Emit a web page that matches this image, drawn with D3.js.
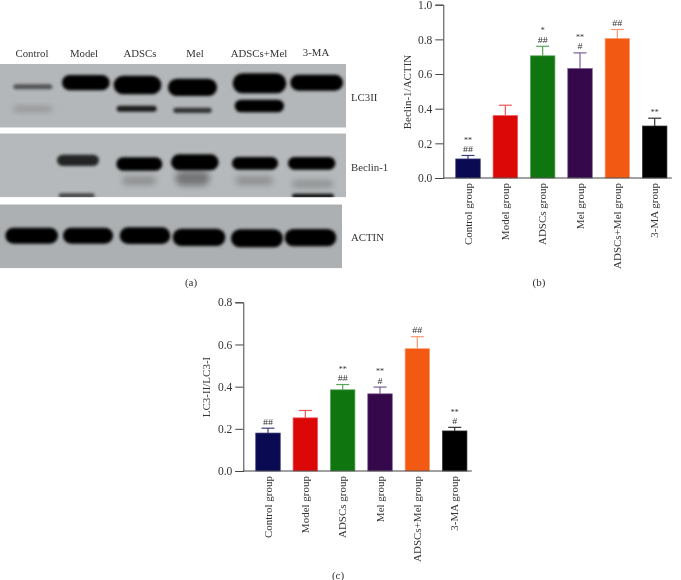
<!DOCTYPE html>
<html><head><meta charset="utf-8">
<script src="https://cdn.jsdelivr.net/npm/d3@7"></script>
<style>html,body{margin:0;padding:0;background:#fff}svg{display:block;filter:blur(0.3px)}text{font-family:"Liberation Serif",serif;fill:#333}</style>
</head><body><div id="c"></div>
<script>
const groups=["Control group","Model group","ADSCs group","Mel group","ADSCs+Mel group","3-MA group"];
const barColors=["#0a0a52","#dc0808","#0f750f","#34084a","#f25912","#000000"];
const whiskerColors=["#3e3e7e","#ee5555","#58a458","#7c6096","#fb9a72","#333333"];
const beclinValues=[0.11,0.36,0.705,0.632,0.805,0.30];
const beclinTops=[0.13,0.42,0.76,0.722,0.857,0.345];
const beclinMarks=[["**","##"],[],["*","##"],["**","#"],["##"],["**"]];
const lc3Values=[0.18,0.252,0.385,0.366,0.58,0.19];
const lc3Tops=[0.203,0.287,0.41,0.398,0.637,0.207];
const lc3Marks=[["##"],[],["**","##"],["**","#"],["##"],["**","#"]];
const beclinTicks=[0,0.2,0.4,0.6,0.8,1.0];
const lc3Ticks=[0,0.2,0.4,0.6,0.8];
const laneLabels=["Control","Model","ADSCs","Mel","ADSCs+Mel","3-MA"];
// blot bands: start, end, centre, thickness, density (units of the blot image)
const lc3Bands=[[40,157,170,15,.55],[40,157,237,11,.3],[186,329,158,46,1],[341,484,165,56,1],[350,470,236,18,.85],[504,651,172,52,1],[520,635,241,16,.72],[698,859,160,60,1],[704,852,228,38,1],[871,1029,158,48,1]];
const beclinBands=[[171,297,391,34,.8],[176,284,497,14,.62],[349,487,402,40,1],[366,469,452,26,.22],[513,656,397,48,1],[526,629,445,44,.36],[696,834,400,38,1],[706,819,452,26,.22],[864,1006,400,38,1],[876,999,462,22,.22],[876,1002,498,14,.92]];
const actinBands=[[16,174,617,48,1],[189,339,617,48,1],[359,511,617,50,1],[518,676,622,52,1],[693,849,625,54,1],[854,1009,623,52,1]];

const svg=d3.select("#c").append("svg").attr("width",681).attr("height",580);
const defs=svg.append("defs");
[["blur",1.8],["blurSoft",3.2]].forEach(([id,s])=>defs.append("filter").attr("id",id).attr("x","-30%").attr("y","-120%").attr("width","160%").attr("height","340%")
  .append("feGaussianBlur").attr("stdDeviation",s));

const bx=d3.scaleLinear().domain([0,1038]).range([0,346]);
const by=d3.scaleLinear().domain([0,810]).range([30,300]);
function blot(id,bands,x1,top,bottom,bg){
  defs.append("clipPath").attr("id",id).append("rect").attr("x",0).attr("y",by(top)).attr("width",bx(x1)).attr("height",by(bottom)-by(top));
  const g=svg.append("g").attr("clip-path",`url(#${id})`);
  g.append("rect").attr("x",0).attr("y",by(top)).attr("width",bx(x1)).attr("height",by(bottom)-by(top)).attr("fill",bg);
  g.selectAll("rect.b").data(bands).join("rect").attr("class","b")
    .attr("x",d=>bx(d[0])).attr("width",d=>bx(d[1])-bx(d[0]))
    .attr("y",d=>by(d[2]-d[3]/2)).attr("height",d=>by(d[3])-by(0))
    .attr("rx",d=>(by(d[3])-by(0))*.5)
    .attr("fill","#050505").attr("opacity",d=>d[4])
    .attr("filter",d=>d[4]<.4?"url(#blurSoft)":"url(#blur)");
}
blot("p1",lc3Bands,1038,102,293,"#b4b7b9");
blot("p2",beclinBands,1038,310,502,"#b6b9bb");
blot("p3",actinBands,1026,523,715,"#adb0b2");

const laneX=[32,84,140,195,259,316];
svg.selectAll("text.lane").data(laneLabels).join("text").attr("class","lane")
  .attr("x",(d,i)=>laneX[i]).attr("y",(d,i)=>i==5?55.5:57).attr("text-anchor","middle").attr("font-size",10.8).text(d=>d);
[["LC3II",97],["Beclin-1",167],["ACTIN",237]].forEach(([t,y])=>svg.append("text").attr("x",351).attr("y",y+3.5).attr("font-size",10.8).text(t));
[["(a)",191,286],["(b)",539,286],["(c)",338,578.5]].forEach(([t,x,y])=>svg.append("text").attr("x",x).attr("y",y).attr("text-anchor","middle").attr("font-size",11).text(t));

function chart(o){
  const x=d3.scalePoint().domain(groups).range([o.x0+24.7,o.x0+211.4]);
  const y=d3.scaleLinear().domain([0,o.max]).range([o.y0,o.yTop]);
  const g=svg.append("g");
  const w=24.5;
  groups.forEach((n,i)=>{
    const cx=x(n);
    g.append("line").attr("x1",cx).attr("x2",cx).attr("y1",y(o.values[i])).attr("y2",y(o.tops[i])).attr("stroke",whiskerColors[i]).attr("stroke-width",1.2);
    g.append("line").attr("x1",cx-6.5).attr("x2",cx+6.5).attr("y1",y(o.tops[i])).attr("y2",y(o.tops[i])).attr("stroke",whiskerColors[i]).attr("stroke-width",1.2);
    g.append("rect").attr("x",cx-w/2).attr("width",w).attr("y",y(o.values[i])).attr("height",y(0)-y(o.values[i]))
      .attr("fill",barColors[i]).attr("stroke",whiskerColors[i]).attr("stroke-width",.7);
    const m=o.marks[i];
    m.forEach((t,k)=>{
      const mark=g.append("text").attr("x",cx).attr("y",y(o.tops[i])-3.5-(m.length-1-k)*9.3).attr("text-anchor","middle").attr("font-size",8).text(t);
      if(t[0]=="#") mark.attr("textLength",t.length*5).attr("lengthAdjust","spacingAndGlyphs");
    });
    g.append("text").attr("transform",`translate(${cx+3.7},${o.y0+5}) rotate(-90)`).attr("text-anchor","end").attr("font-size",11).text(n);
  });
  const ya=svg.append("g").attr("transform",`translate(${o.x0},0)`).call(d3.axisLeft(y).tickValues(o.ticks).tickFormat(d3.format(".1f")).tickSize(8).tickPadding(3));
  ya.selectAll("path,line").attr("stroke","#444").attr("stroke-width",1);
  ya.selectAll("text").attr("font-size",11.5).style("font-family",'"Liberation Serif",serif').attr("fill","#333");
  svg.append("line").attr("x1",o.x0).attr("x2",o.x0+228.5).attr("y1",o.y0).attr("y2",o.y0).attr("stroke","#444").attr("stroke-width",1);
  svg.append("text").attr("transform",`translate(${o.tx},${o.ty}) rotate(-90)`).attr("text-anchor","middle").attr("font-size",11).text(o.title);
}
chart({x0:443.3,y0:178,yTop:4.7,max:1,values:beclinValues,tops:beclinTops,marks:beclinMarks,ticks:beclinTicks,title:"Beclin-1/ACTIN",tx:410.5,ty:92});
chart({x0:243.3,y0:471,yTop:302.3,max:.8,values:lc3Values,tops:lc3Tops,marks:lc3Marks,ticks:lc3Ticks,title:"LC3-II/LC3-I",tx:209.5,ty:387});
</script></body></html>
